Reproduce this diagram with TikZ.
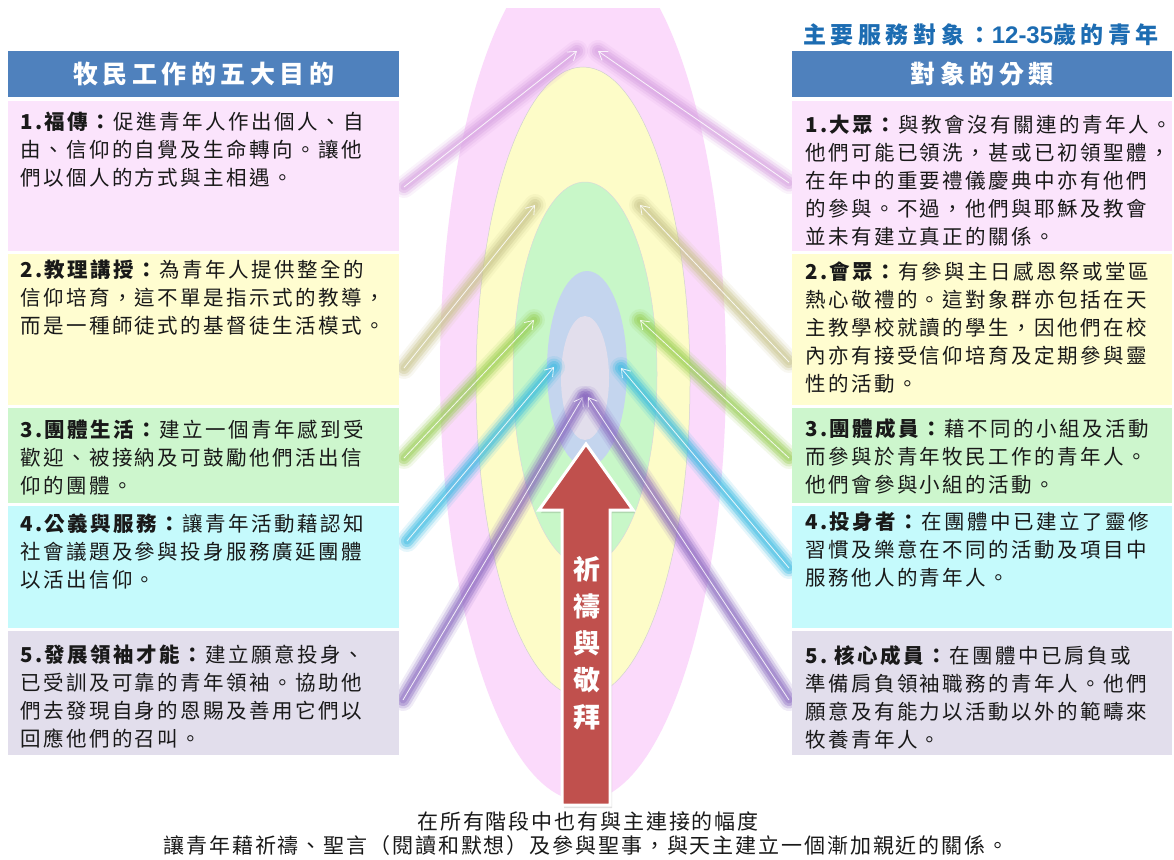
\documentclass[tikz,border=0pt]{standalone}
\usepackage{fontspec}
\setmainfont{Noto Sans CJK TC}
\newfontfamily\bodyf[LetterSpace=12]{Noto Sans CJK TC}
\newfontfamily\hdf[LetterSpace=18]{Noto Sans CJK TC}
\newfontfamily\titf[LetterSpace=20]{Noto Sans CJK TC}
\newfontfamily\botf[LetterSpace=9]{Noto Sans CJK TC}
\newfontfamily\arrf{Noto Sans CJK TC}
\newfontfamily\lsans{Liberation Sans}
\usetikzlibrary{arrows.meta}

\definecolor{hdrblue}{RGB}{79,129,189}
\definecolor{bxpink}{RGB}{251,228,252}
\definecolor{bxyellow}{RGB}{255,253,208}
\definecolor{bxgreen}{RGB}{205,246,205}
\definecolor{bxcyan}{RGB}{197,250,252}
\definecolor{bxlav}{RGB}{226,222,236}
\definecolor{elpink}{RGB}{251,218,251}
\definecolor{elyellow}{RGB}{253,252,200}
\definecolor{elgreen}{RGB}{200,247,200}
\definecolor{elblue}{RGB}{196,213,238}
\definecolor{ellav}{RGB}{226,222,236}
\definecolor{redarr}{RGB}{192,80,77}
\definecolor{titblue}{RGB}{28,108,178}
\definecolor{txtdark}{RGB}{25,25,25}
\definecolor{gpink}{RGB}{214,160,224}
\definecolor{gbeige}{RGB}{200,196,140}
\definecolor{ggreen}{RGB}{150,205,80}
\definecolor{gcyan}{RGB}{50,185,225}
\definecolor{gpurple}{RGB}{135,100,190}

\newcommand{\glowarr}[3]{%
  \draw[line width=22pt,#3,opacity=.12,line cap=round] (#1)--(#2);
  \draw[line width=17pt,#3,opacity=.22,line cap=round] (#1)--(#2);
  \draw[line width=12pt,#3,opacity=.35,line cap=round] (#1)--(#2);
  \draw[line width=7pt,#3,opacity=.35,line cap=round] (#1)--(#2);
  \draw[white,opacity=.85,line width=.8pt,-{Straight Barb[length=8pt,width=11pt,line width=.8pt]}] (#1)--(#2);
}

\tikzset{
  bx/.style={rectangle, draw=none, inner sep=0, minimum width=391, anchor=center},
  rbx/.style={rectangle, draw=none, inner sep=0, minimum width=380, anchor=center},
  hdr/.style={rectangle, fill=hdrblue, inner sep=0, text=white,
    font=\hdf\bfseries\fontsize{25}{30}\selectfont},
  btxt/.style={anchor=north west, inner sep=0, align=left, text=txtdark,
    font=\bodyf\fontsize{20.5}{28}\selectfont},
  botline/.style={inner sep=0, text=txtdark, font=\botf\fontsize{21}{25}\selectfont},
}

\begin{document}
\begin{tikzpicture}[x=1pt,y=-1pt]
\useasboundingbox (0,0) rectangle (1174,859);
\fill[white] (0,0) rectangle (1174,859);

% concentric ellipses
\begin{scope}
\clip (0,9) rectangle (1174,859);
\fill[elpink] (583,371) ellipse [x radius=143, y radius=430];
\end{scope}
\filldraw[fill=elyellow, draw=black!18, line width=.5pt] (583,382) ellipse [x radius=107, y radius=315];
\filldraw[fill=elgreen, draw=black!15, line width=.5pt] (585,374) ellipse [x radius=72, y radius=192];
\fill[elblue] (587,369) ellipse [x radius=40, y radius=98];
\fill[ellav] (585,378) ellipse [x radius=24, y radius=62];

% arrow end points
\coordinate (l1s) at (404,187); \coordinate (l1e) at (577,51);
\coordinate (l2s) at (404,368); \coordinate (l2e) at (535,205);
\coordinate (l3s) at (404,458); \coordinate (l3e) at (534,320);
\coordinate (l4s) at (407,541); \coordinate (l4e) at (554,367);
\coordinate (l5s) at (403,700); \coordinate (l5e) at (583,397);
\coordinate (r1s) at (789,183); \coordinate (r1e) at (598,51);
\coordinate (r2s) at (789,362); \coordinate (r2e) at (640,205);
\coordinate (r3s) at (789,458); \coordinate (r3e) at (640,320);
\coordinate (r4s) at (789,568); \coordinate (r4e) at (621,368);
\coordinate (r5s) at (789,700); \coordinate (r5e) at (588,397);

\glowarr{l1s}{l1e}{gpink}
\glowarr{r1s}{r1e}{gpink}
\glowarr{l2s}{l2e}{gbeige}
\glowarr{r2s}{r2e}{gbeige}
\glowarr{l3s}{l3e}{ggreen}
\glowarr{r3s}{r3e}{ggreen}
\glowarr{l4s}{l4e}{gcyan}
\glowarr{r4s}{r4e}{gcyan}
\glowarr{l5s}{l5e}{gpurple}
\glowarr{r5s}{r5e}{gpurple}

% left column
\node[hdr, minimum width=391, minimum height=46] (lhdr) at (203.5,74) {牧民工作的五大目的};
\node[bx, fill=bxpink,   minimum height=150] (lb1) at (203.5,176) {};
\node[bx, fill=bxyellow, minimum height=151] (lb2) at (203.5,329.5) {};
\node[bx, fill=bxgreen,  minimum height=95]  (lb3) at (203.5,455.5) {};
\node[bx, fill=bxcyan,   minimum height=122] (lb4) at (203.5,567) {};
\node[bx, fill=bxlav,    minimum height=124] (lb5) at (203.5,693) {};

\node[btxt] (lt1) at (20,112) {\textbf{1.福傳：}促進青年人作出個人、自\\由、信仰的自覺及生命轉向。讓他\\們以個人的方式與主相遇。};
\node[btxt] (lt2) at (20,260) {\textbf{2.教理講授：}為青年人提供整全的\\信仰培育，這不單是指示式的教導，\\而是一種師徒式的基督徒生活模式。};
\node[btxt] (lt3) at (20,420) {\textbf{3.團體生活：}建立一個青年感到受\\歡迎、被接納及可鼓勵他們活出信\\仰的團體。};
\node[btxt] (lt4) at (20,514) {\textbf{4.公義與服務：}讓青年活動藉認知\\社會議題及參與投身服務廣延團體\\以活出信仰。};
\node[btxt] (lt5) at (20,645) {\textbf{5.發展領袖才能：}建立願意投身、\\已受訓及可靠的青年領袖。協助他\\們去發現自身的恩賜及善用它們以\\回應他們的召叫。};

% right column
\node[anchor=west, inner sep=0, text=titblue, font=\titf\bfseries\fontsize{23}{26}\selectfont] (title) at (803,35) {主要服務對象：{\lsans\fontsize{24}{26}\selectfont 12-35}歲的青年};
\node[hdr, minimum width=380, minimum height=46] (rhdr) at (982,74) {對象的分類};
\node[rbx, fill=bxpink,   minimum height=150] (rb1) at (982,175.5) {};
\node[rbx, fill=bxyellow, minimum height=151] (rb2) at (982,329.5) {};
\node[rbx, fill=bxgreen,  minimum height=95]  (rb3) at (982,455.5) {};
\node[rbx, fill=bxcyan,   minimum height=122] (rb4) at (982,567) {};
\node[rbx, fill=bxlav,    minimum height=124] (rb5) at (982,693) {};

\node[btxt] (rt1) at (805,115) {\textbf{1.大眾：}與教會沒有關連的青年人。\\他們可能已領洗，甚或已初領聖體，\\在年中的重要禮儀慶典中亦有他們\\的參與。不過，他們與耶穌及教會\\並未有建立真正的關係。};
\node[btxt] (rt2) at (805,262) {\textbf{2.會眾：}有參與主日感恩祭或堂區\\熱心敬禮的。這對象群亦包括在天\\主教學校就讀的學生，因他們在校\\內亦有接受信仰培育及定期參與靈\\性的活動。};
\node[btxt] (rt3) at (805,418) {\textbf{3.團體成員：}藉不同的小組及活動\\而參與於青年牧民工作的青年人。\\他們會參與小組的活動。};
\node[btxt] (rt4) at (805,512) {\textbf{4.投身者：}在團體中已建立了靈修\\習慣及樂意在不同的活動及項目中\\服務他人的青年人。};
\node[btxt] (rt5) at (805,645) {\textbf{5.\ 核心成員：}在團體中已肩負或\\準備肩負領袖職務的青年人。他們\\願意及有能力以活動以外的範疇來\\牧養青年人。};

% central red arrow
\fill[black, opacity=.12] (564,808)--(564,513)--(541,513)--(588,447)--(635,513)--(612,513)--(612,808)--cycle;
\filldraw[fill=redarr, draw=white, line width=3pt, line join=miter]
  (562,805)--(562,510)--(539,510)--(586,444)--(633,510)--(610,510)--(610,805)--cycle;
\node[anchor=north, inner sep=0, align=center, text=white,
  font=\arrf\bfseries\fontsize{27}{37}\selectfont] (pray) at (587,556) {祈\\禱\\與\\敬\\拜};

% bottom text
\node[botline] (bot1) at (588,821) {在所有階段中也有與主連接的幅度};
\node[botline] (bot2) at (586,846) {讓青年藉祈禱、聖言（閱讀和默想）及參與聖事，與天主建立一個漸加親近的關係。};
\end{tikzpicture}
\end{document}
